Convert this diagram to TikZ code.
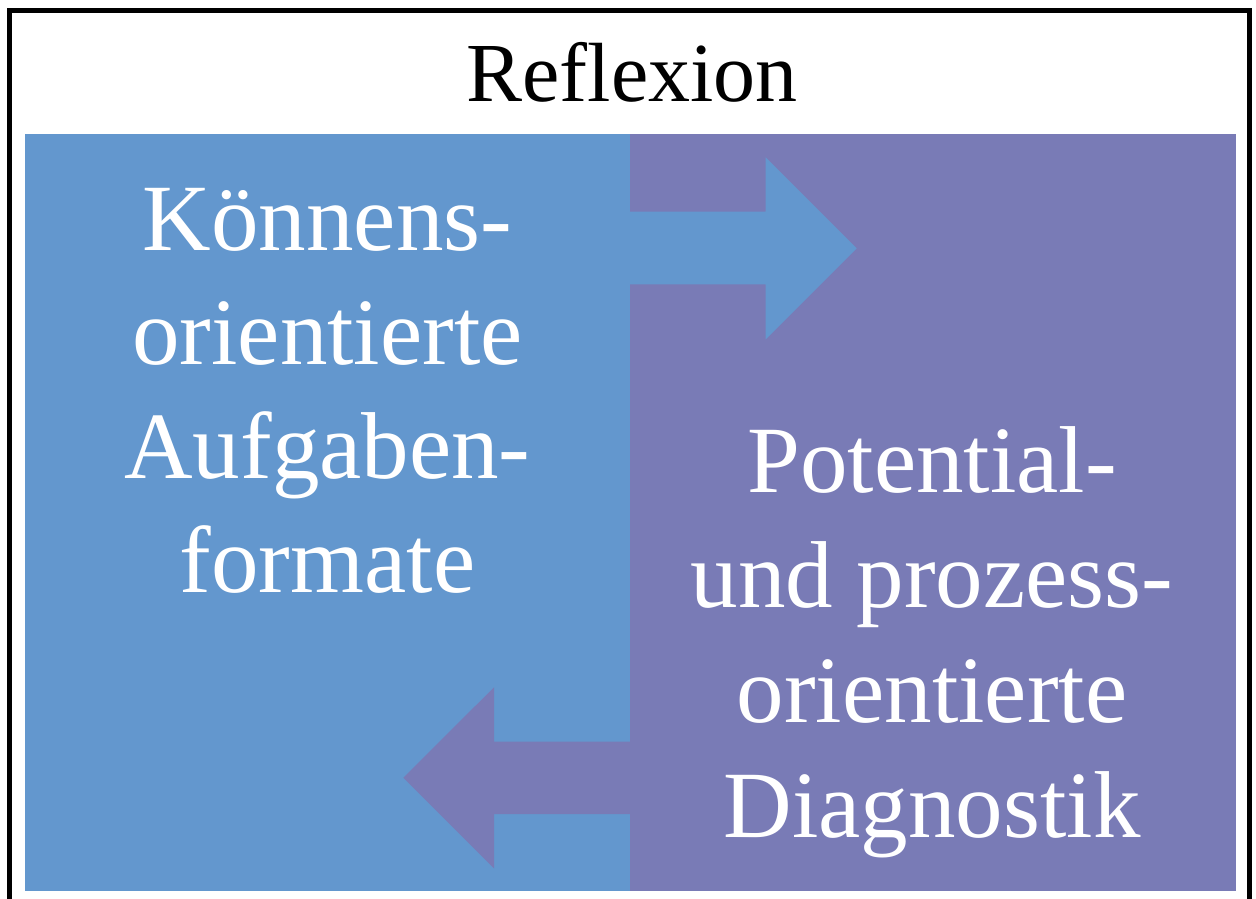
\documentclass[tikz,border=0pt]{standalone}
\usepackage{fontspec}
\setmainfont{Liberation Serif}
\usepackage{xcolor}
\definecolor{blue1}{HTML}{6397CE}
\definecolor{purple1}{HTML}{797BB6}

\begin{document}
\begin{tikzpicture}[x=1pt,y=-1pt,
  paneltext/.style={text=white,align=center,font=\fontsize{95}{114}\selectfont,inner sep=0pt}]

\useasboundingbox (0,0) rectangle (1256,899);

% frame, open at the bottom
\draw[line width=5pt] (9.5,899) -- (9.5,10.5) -- (1249.5,10.5) -- (1249.5,899);

\node[inner sep=0pt,anchor=base,font=\fontsize{84}{90}\selectfont] (title) at (632,102) {Reflexion};

% the two panels
\fill[blue1] (24.5,133.5) rectangle (630,891);
\fill[purple1] (630,133.5) rectangle (1235.5,891);

% block arrows
\fill[blue1] (630,211.7) -- (765.7,211.7) -- (765.7,157.3) -- (856.7,248.3) -- (765.7,339.3) -- (765.7,284.3) -- (630,284.3) -- cycle;
\fill[purple1] (630,741.7) -- (494,741.7) -- (494,687.3) -- (403.3,777.7) -- (494,868.3) -- (494,814) -- (630,814) -- cycle;

\node[paneltext] (leftlabel) at (327.5,391) {Könnens-\\orientierte\\Aufgaben-\\formate};
\node[paneltext,font=\fontsize{95}{115}\selectfont] (rightlabel) at (932,642) {Potential-\\und prozess-\\orientierte\\Diagnostik};

\end{tikzpicture}
\end{document}
